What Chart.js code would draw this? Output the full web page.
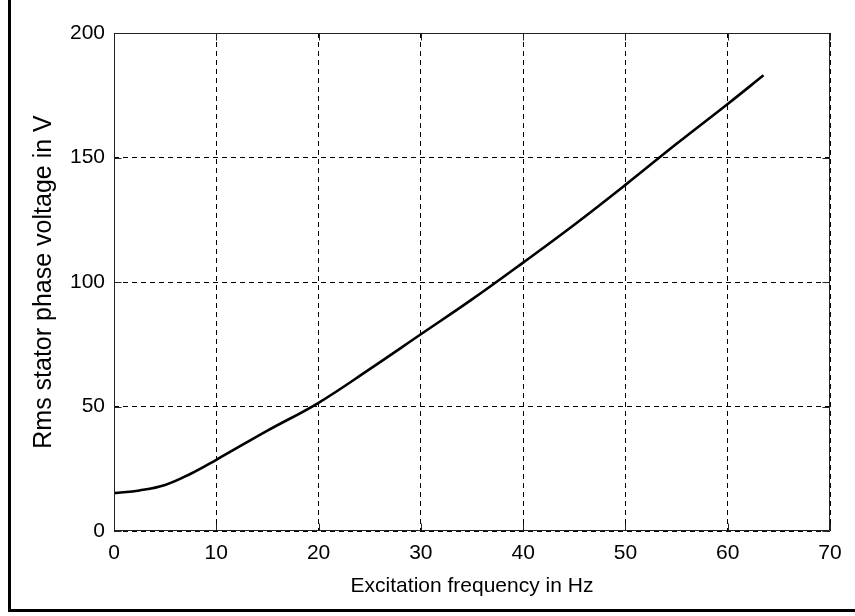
<!DOCTYPE html>
<html>
<head>
<meta charset="utf-8">
<script src="https://cdn.jsdelivr.net/npm/chart.js@4"></script>
<style>
  html, body { margin: 0; padding: 0; background: #fff; }
  #wrap { position: relative; width: 855px; height: 616px; overflow: hidden; }
  #frame { position: absolute; left: 8px; top: -3px; width: 900px; height: 612px;
           border-left: 3px solid #000; border-bottom: 3px solid #000; box-sizing: content-box; }
  canvas { position: absolute; left: 0; top: 0; }
</style>
</head>
<body>
<div id="wrap">
  <div id="frame"></div>
  <canvas id="c" width="855" height="616"></canvas>
</div>
<script>
// Excitation frequency (Hz) and RMS stator phase voltage (V)
const frequencyHz = [0, 2.5, 5, 7.5, 10, 15, 20, 25, 30, 35, 40, 45, 50, 55, 60, 63.5];
const voltageV    = [15.2, 16.3, 18.5, 23, 28.6, 40.3, 51.5, 65, 79, 93, 107.8, 123, 139, 155.5, 171.5, 183];

const xTicks = [0, 10, 20, 30, 40, 50, 60, 70];
const yTicks = [0, 50, 100, 150, 200];

const xTitle = 'Excitation frequency in Hz';
const yTitle = 'Rms stator phase voltage in V';

const family = '"Liberation Sans", Arial, Helvetica, sans-serif';
const tickFont = { family, size: 21 };

// Box around the plot area with short inward tick marks on all four sides
const axesBox = {
  id: 'axesBox',
  afterDraw(chart) {
    const { ctx, chartArea: a, scales } = chart;
    const L = Math.round(a.left) + 0.5, R = Math.round(a.right) - 0.5;
    const T = Math.round(a.top) + 0.5, B = Math.round(a.bottom) - 0.5;
    const len = 7;
    ctx.save();
    ctx.strokeStyle = '#222';
    ctx.lineWidth = 1;
    ctx.setLineDash([]);
    ctx.beginPath();
    ctx.rect(L, T, R - L, B - T);
    xTicks.forEach(v => {
      const px = Math.round(scales.x.getPixelForValue(v)) + 0.5;
      ctx.moveTo(px, B); ctx.lineTo(px, B - len);
      ctx.moveTo(px, T); ctx.lineTo(px, T + len);
    });
    yTicks.forEach(v => {
      const py = Math.round(scales.y.getPixelForValue(v)) + 0.5;
      ctx.moveTo(L, py); ctx.lineTo(L + len, py);
      ctx.moveTo(R, py); ctx.lineTo(R - len, py);
    });
    ctx.stroke();
    ctx.restore();
  }
};

new Chart(document.getElementById('c'), {
  type: 'scatter',
  data: {
    datasets: [{
      data: frequencyHz.map((f, i) => ({ x: f, y: voltageV[i] })),
      showLine: true,
      borderColor: '#000',
      borderWidth: 2.6,
      pointRadius: 0,
      tension: 0.4,
      fill: false
    }]
  },
  options: {
    responsive: false,
    animation: false,
    devicePixelRatio: 1,
    layout: { padding: { top: 33, right: 25, left: 0, bottom: 0 } },
    plugins: { legend: { display: false }, tooltip: { enabled: false } },
    scales: {
      x: {
        type: 'linear', min: 0, max: 70,
        afterBuildTicks(s) { s.ticks = xTicks.map(v => ({ value: v })); },
        afterFit(s) { s.height = 85; },
        ticks: { color: '#000', font: tickFont, padding: 10, maxRotation: 0 },
        grid: { color: '#000', lineWidth: 1, drawTicks: false },
        border: { display: false, dash: [5, 4] },
        title: { display: true, text: xTitle, color: '#000',
                 font: { family, size: 21 },
                 padding: { top: 0, bottom: 17 } }
      },
      y: {
        type: 'linear', min: 0, max: 200,
        afterBuildTicks(s) { s.ticks = yTicks.map(v => ({ value: v })); },
        afterFit(s) { s.width = 114; },
        ticks: { color: '#000', font: tickFont, padding: 9 },
        grid: { color: '#000', lineWidth: 1, drawTicks: false },
        border: { display: false, dash: [5, 4] },
        title: { display: true, text: yTitle, color: '#000',
                 font: { family, size: 25 },
                 padding: { top: 29, bottom: 0 } }
      }
    }
  },
  plugins: [axesBox]
});
</script>
</body>
</html>
